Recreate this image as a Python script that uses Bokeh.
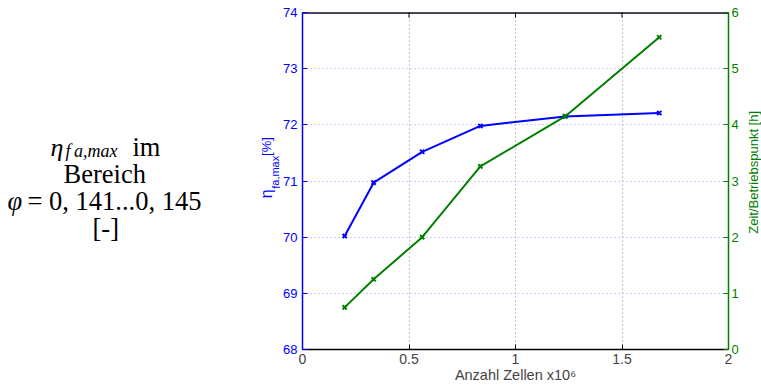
from bokeh.plotting import figure
from bokeh.layouts import row
from bokeh.models import Range1d, LinearAxis, Label, FixedTicker
from bokeh.embed import file_html
from bokeh.resources import INLINE

# Mesh study: number of cells (x10^6) vs. max efficiency and run time per operating point
zellen = [0.198, 0.334, 0.562, 0.835, 1.233, 1.675]
eta_max = [70.02, 70.97, 71.52, 71.98, 72.15, 72.21]
zeit_h = [0.75, 1.25, 2.0, 3.26, 4.15, 5.56]

x_ticks = [0, 0.5, 1, 1.5, 2]
eta_ticks = [68, 69, 70, 71, 72, 73, 74]
zeit_ticks = [0, 1, 2, 3, 4, 5, 6]

BLUE = "#0000ff"
GREEN = "#008000"
SANS = "Liberation Sans"
SERIF = "Liberation Serif"

W, H = 761, 390
LEFT_W = 280          # note + left axis title
RIGHT_W = 20          # right axis title
PI_2 = 1.5708


def text_panel(width, x0):
    """Blank canvas whose data coordinates are page pixels (y downwards)."""
    f = figure(width=width, height=H, output_backend="svg", toolbar_location=None,
               x_range=Range1d(x0, x0 + width), y_range=Range1d(H, 0),
               x_axis_location=None, y_axis_location=None,
               min_border=0, min_border_left=0, min_border_right=0,
               min_border_top=0, min_border_bottom=0)
    f.outline_line_color = None
    f.grid.visible = False
    f.background_fill_color = "white"
    f.border_fill_color = "white"
    return f


def put(panel, text, x, y, size, font=SANS, style="normal", color="black",
        angle=0.0, align="left"):
    panel.add_layout(Label(x=x, y=y, text=text, angle=angle, text_font=font,
                           text_font_size=size, text_font_style=style,
                           text_color=color, text_baseline="alphabetic",
                           text_align=align))


# ---------- note panel ----------
note = text_panel(LEFT_W, 0)
put(note, "\u03b7", 50, 156, "26px", SERIF, "italic")
put(note, "f\u2009a,max", 65, 160, "18px", SERIF, "italic")
put(note, "im", 132, 156, "26.5px", SERIF)
put(note, "Bereich", 63, 187, "26.5px", SERIF)
put(note, "\u03c6", 7, 218, "26.5px", SERIF, "italic")
put(note, "= 0, 141...0, 145", 27, 218, "26.5px", SERIF)
put(note, "[-]", 92, 249, "26.5px", SERIF)

# left axis title with subscript, reading upwards
put(note, "\u03b7", 266, 215, "16px", color=BLUE, angle=PI_2)
put(note, "fa,max", 275, 204, "11px", color=BLUE, angle=PI_2)
put(note, "[%]", 266, 166, "13px", color=BLUE, angle=PI_2)

# ---------- main chart ----------
p = figure(width=W - LEFT_W - RIGHT_W, height=H, output_backend="svg",
           toolbar_location=None,
           x_range=Range1d(0, 2), y_range=Range1d(68, 74),
           min_border_left=21, min_border_right=13,
           min_border_top=12, min_border_bottom=41)
p.extra_y_ranges = {"zeit": Range1d(0, 6)}
p.background_fill_color = "white"
p.border_fill_color = "white"
p.outline_line_color = "#9999ee"
p.outline_line_width = 1

# grids
p.xgrid.ticker = FixedTicker(ticks=x_ticks)
p.xgrid.grid_line_color = "#888888"
p.xgrid.grid_line_dash = "1 3"
p.ygrid.ticker = FixedTicker(ticks=eta_ticks)
p.ygrid.grid_line_color = "#9f9fff"
p.ygrid.grid_line_dash = "1 3"

# bottom axis
xa = p.xaxis[0]
xa.ticker = FixedTicker(ticks=x_ticks)
xa.axis_label = "Anzahl Zellen x10\u2076"
xa.axis_label_text_font = SANS
xa.axis_label_text_font_style = "normal"
xa.axis_label_text_font_size = "14.5px"
xa.axis_label_standoff = 0
xa.major_label_text_font = SANS
xa.major_label_text_font_size = "14px"
xa.major_label_standoff = 4
xa.major_tick_in = 5
xa.major_tick_out = 0
xa.minor_tick_line_color = None
xa.axis_line_color = "black"
xa.axis_line_width = 1.5
xa.major_tick_line_color = "black"

# left axis (efficiency)
ya = p.yaxis[0]
ya.ticker = FixedTicker(ticks=eta_ticks)
ya.major_label_text_color = BLUE
ya.major_label_text_font = SANS
ya.major_label_text_font_size = "13px"
ya.major_label_standoff = 5
ya.major_tick_in = 5
ya.major_tick_out = 0
ya.minor_tick_line_color = None
ya.axis_line_color = BLUE
ya.axis_line_width = 1.5
ya.major_tick_line_color = BLUE

# right axis (time per operating point)
ra = LinearAxis(y_range_name="zeit", ticker=FixedTicker(ticks=zeit_ticks),
                major_label_text_color=GREEN, major_label_text_font=SANS,
                major_label_text_font_size="13px", major_label_standoff=3,
                major_tick_in=5, major_tick_out=0, minor_tick_line_color=None,
                axis_line_color=GREEN, axis_line_width=1.5,
                major_tick_line_color=GREEN)
p.add_layout(ra, "right")

# top frame edge with inward ticks
tick_len = 5 * 6 / 337
p.segment(x0=0, y0=74, x1=2, y1=74, line_color="black", line_width=2.5)
p.segment(x0=x_ticks, y0=[74] * len(x_ticks), x1=x_ticks,
          y1=[74 - tick_len] * len(x_ticks), line_color="black", line_width=1)

# data series
p.line(zellen, eta_max, line_color=BLUE, line_width=2)
p.scatter(zellen, eta_max, marker="x", size=6, line_color=BLUE, line_width=2)
p.line(zellen, zeit_h, line_color=GREEN, line_width=2, y_range_name="zeit")
p.scatter(zellen, zeit_h, marker="x", size=6, line_color=GREEN, line_width=2,
          y_range_name="zeit")

# ---------- right axis title ----------
side = text_panel(RIGHT_W, W - RIGHT_W)
put(side, "Zeit/Betriebspunkt [h]", 753, 185, "13px", color=GREEN, angle=PI_2,
    align="center")

layout = row(note, p, side, spacing=0)
open("out.html", "w").write(file_html(layout, INLINE))
